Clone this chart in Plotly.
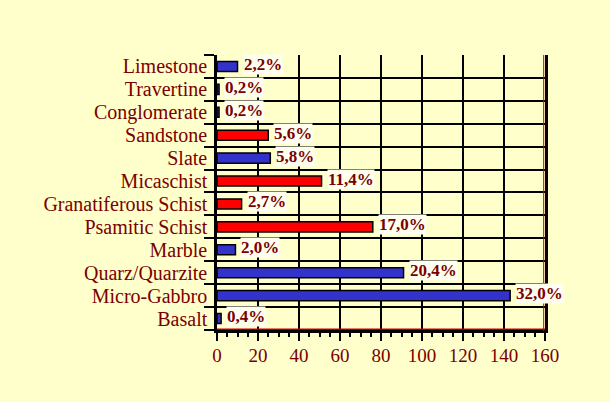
import plotly.graph_objects as go

categories = ["Limestone", "Travertine", "Conglomerate", "Sandstone", "Slate",
              "Micaschist", "Granatiferous Schist", "Psamitic Schist", "Marble",
              "Quarz/Quarzite", "Micro-Gabbro", "Basalt"]
counts = [10, 1, 1, 25, 26, 51, 12, 76, 9, 91, 143, 2]
percent_labels = ["2,2%", "0,2%", "0,2%", "5,6%", "5,8%", "11,4%", "2,7%",
                  "17,0%", "2,0%", "20,4%", "32,0%", "0,4%"]
groups = ["b", "b", "b", "r", "b", "r", "r", "r", "b", "b", "b", "b"]
x_ticks = [0, 20, 40, 60, 80, 100, 120, 140, 160]

BLUE = "#3333CC"
RED = "#FF0000"
BG = "#FFFFCC"
TXT = "#7A0000"
FONT = "Liberation Serif"

colors = [BLUE if g == "b" else RED for g in groups]

fig = go.Figure()
fig.add_trace(go.Bar(
    x=counts, y=categories, orientation="h",
    marker=dict(color=colors, line=dict(color="black", width=1.5)),
    hoverinfo="x+y",
))

for c, v, lab in zip(categories, counts, percent_labels):
    fig.add_annotation(
        x=v, y=c, xref="x", yref="y", text="<b>" + lab + "</b>", showarrow=False,
        xanchor="left", xshift=5, yshift=2,
        font=dict(family=FONT, size=17, color=TXT),
        bgcolor="#FFFFF0", borderpad=0,
    )

fig.update_layout(
    width=610, height=402,
    paper_bgcolor=BG, plot_bgcolor=BG,
    margin=dict(l=217, r=65, t=55, b=71),
    bargap=0.56,
    showlegend=False,
    font=dict(family=FONT, color=TXT),
    shapes=[
        dict(type="line", xref="x domain", yref="y domain", x0=0, x1=1, y0=0.007, y1=0.007,
             line=dict(color="#CC0000", width=1.2)),
        dict(type="line", xref="x domain", yref="y domain", x0=0.996, x1=0.996, y0=0, y1=1,
             line=dict(color="#CC0000", width=1)),
    ],
)

fig.update_xaxes(
    range=[0, 160], tickvals=x_ticks, ticktext=[str(t) for t in x_ticks],
    showgrid=True, gridcolor="black", gridwidth=2,
    showline=True, linecolor="black", linewidth=2, mirror=False,
    ticks="outside", ticklen=8, tickwidth=2, tickcolor="black",
    minor=dict(dtick=5, ticks="outside", ticklen=4, tickwidth=1.5, tickcolor="black", showgrid=False),
    tickfont=dict(family=FONT, size=19, color=TXT),
    ticklabelstandoff=-2,
    zeroline=False, fixedrange=True,
)
fig.update_yaxes(
    autorange="reversed", type="category",
    tickmode="array", tickvals=categories, ticktext=categories,
    tickson="boundaries",
    showgrid=True, gridcolor="black", gridwidth=2,
    showline=True, linecolor="black", linewidth=2.5, mirror=True,
    ticks="outside", ticklen=10, tickwidth=2, tickcolor="black",
    tickfont=dict(family=FONT, size=20, color=TXT),
    ticklabelstandoff=3,
    zeroline=False, fixedrange=True,
)

fig.write_html("out.html", config={"displayModeBar": False},
               post_script="document.body.style.margin='0px';")
